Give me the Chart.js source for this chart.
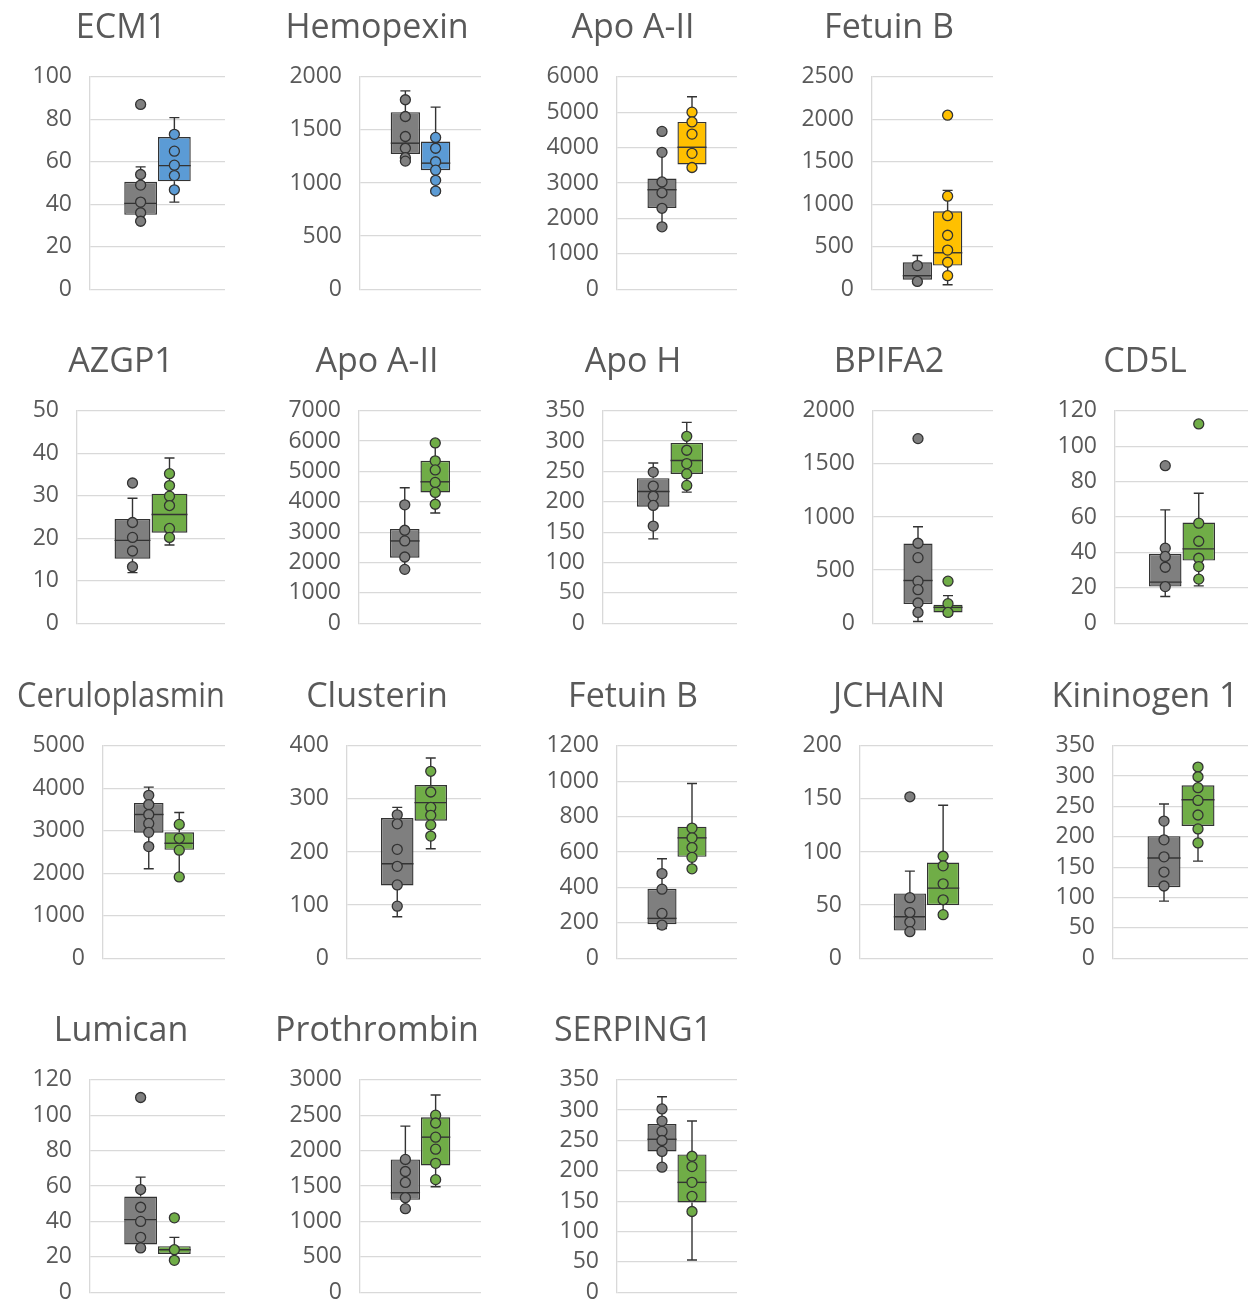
<!DOCTYPE html>
<html>
<head>
<meta charset="utf-8">
<script src="https://cdn.jsdelivr.net/npm/chart.js@4.4.1/dist/chart.umd.min.js"></script>
<style>
  body { margin: 0; background: #ffffff; width: 1248px; height: 1302px; overflow: hidden; position: relative; }
  canvas { position: absolute; }
</style>
</head>
<body>
<script>
// panel titles and y axes
const panelTitles = ["ECM1", "Hemopexin", "Apo A-II", "Fetuin B",
  "AZGP1", "Apo A-II", "Apo H", "BPIFA2", "CD5L",
  "Ceruloplasmin", "Clusterin", "Fetuin B", "JCHAIN", "Kininogen 1",
  "Lumican", "Prothrombin", "SERPING1"];
const axisMax  = [100, 2000, 6000, 2500, 50, 7000, 350, 2000, 120, 5000, 400, 1200, 200, 350, 120, 3000, 350];
const axisStep = [20, 500, 1000, 500, 10, 1000, 50, 500, 20, 1000, 100, 200, 50, 50, 20, 500, 50];

// colour of the second box in each panel
const caseColors = ["#5b9bd5", "#5b9bd5", "#ffc000", "#ffc000",
  "#70ad47", "#70ad47", "#70ad47", "#70ad47", "#70ad47",
  "#70ad47", "#70ad47", "#70ad47", "#70ad47", "#70ad47",
  "#70ad47", "#70ad47", "#70ad47"];

// box stats: [low whisker, Q1, median, Q3, high whisker]
const ctrlStats = [
  [31.5, 35, 40.4, 50.6, 57.6], [1194, 1273, 1375, 1667, 1867], [1762, 2295, 2810, 3124, 3867], [91, 111, 159, 317, 397],
  [11.9, 15.2, 19.5, 24.5, 29.4], [1774, 2160, 2711, 3108, 4463], [139, 192, 217, 239, 264], [16, 180, 402, 750, 908], [15.1, 20.7, 23.2, 39.2, 64],
  [2107, 2955, 3383, 3655, 4028], [78, 137, 178, 264, 284], [168, 192, 225, 392, 562], [24, 26, 39, 61, 82], [94, 117, 165, 201, 254],
  [24, 27, 41, 54, 65], [1165, 1305, 1405, 1875, 2345], [202, 232, 252, 277, 322]
];
const caseStats = [
  [41, 50.8, 58.2, 71.6, 80.8], [905, 1121, 1187, 1391, 1714], [3438, 3524, 4010, 4724, 5438], [52, 278, 429, 917, 1163],
  [18.4, 21.3, 25.6, 30.5, 38.9], [3630, 4310, 4660, 5350, 5940], [216, 246, 268, 297, 331], [80, 101, 149, 174, 260], [21.1, 35.4, 42, 56.9, 73.4],
  [1913, 2551, 2706, 2963, 3429], [206, 259, 293, 326, 377], [507, 573, 680, 743, 987], [39, 50, 66, 90, 144], [160, 218, 261, 285, 315],
  [19, 21.6, 24, 26, 31], [1490, 1790, 2190, 2470, 2785], [53, 148, 181, 227, 282]
];

// individual samples
const ctrlPoints = [
  [87, 54, 49, 41, 36, 32], [1784, 1626, 1438, 1327, 1238, 1206], [4457, 3867, 3029, 2724, 2286, 1762], [278, 91],
  [33, 23.7, 20.2, 17, 13.3], [3901, 3063, 2711, 2182, 1774], [249, 226, 209, 194, 160], [1738, 753, 617, 396, 316, 190, 101], [89, 42.4, 37.7, 31.6, 20.7],
  [3834, 3616, 3383, 3173, 2963, 2628], [270, 253, 205, 173, 138, 98], [478, 390, 253, 187], [152, 57, 43, 34, 25], [226, 195, 167, 142, 119],
  [110, 58, 48, 40, 31, 25], [1875, 1705, 1550, 1335, 1180], [302, 282, 265, 250, 232, 206]
];
const casePoints = [
  [72.9, 65, 58.4, 53.5, 46.8], [1429, 1327, 1200, 1121, 1025, 924], [5000, 4724, 4381, 3838, 3438], [2048, 1095, 865, 635, 460, 317, 159],
  [35.2, 32.4, 29.9, 27.7, 22.3, 20.2], [5940, 5350, 5050, 4640, 4310, 3920], [308, 285, 263, 246, 227], [396, 184, 101], [112.6, 56.5, 46.3, 36.7, 32, 24.9],
  [3149, 2823, 2543, 1913], [352, 313, 284, 269, 251, 230], [735, 680, 625, 570, 505], [96, 87, 70, 55, 41], [315, 299, 281, 260, 236, 213, 190],
  [42, 24, 18], [2500, 2390, 2190, 2020, 1820, 1590], [224, 207, 181, 158, 133]
];

// x slots: empty, control, case, empty
const slots = ["", "ctrl", "case", " "];

// page layout
const panelRow = [0, 0, 0, 0, 1, 1, 1, 1, 1, 2, 2, 2, 2, 2, 3, 3, 3];
const panelCol = [0, 1, 2, 3, 0, 1, 2, 3, 4, 0, 1, 2, 3, 4, 0, 1, 2];
const axisWidth = [90, 104, 105, 104, 77, 103, 91, 105, 91, 103, 91, 105, 92, 89, 90, 104, 105];
const rowTop = [0, 334, 669, 1003];
const colWidth = 256;
const sidePad = 17;

const fontFamily = "'Open Sans', 'Noto Sans', sans-serif";
const ctrlColor = "#7f7f7f";
const edgeColor = "#333333";

// whiskers under the boxes, medians on top of them
const boxPlugin = {
  id: "boxWhisker",
  beforeDatasetsDraw(chart, args, opts) {
    const ctx = chart.ctx;
    const xs = chart.scales.x, ys = chart.scales.y;
    ctx.save();
    ctx.strokeStyle = edgeColor;
    ctx.lineWidth = 1.4;
    opts.stats.forEach(function (s, k) {
      let cx = xs.getPixelForValue(k + 1);
      let lo = ys.getPixelForValue(s[0]), q1 = ys.getPixelForValue(s[1]);
      let q3 = ys.getPixelForValue(s[3]), hi = ys.getPixelForValue(s[4]);
      ctx.beginPath();
      ctx.moveTo(cx, lo); ctx.lineTo(cx, q1);
      ctx.moveTo(cx, q3); ctx.lineTo(cx, hi);
      ctx.moveTo(cx - 5, lo); ctx.lineTo(cx + 5, lo);
      ctx.moveTo(cx - 5, hi); ctx.lineTo(cx + 5, hi);
      ctx.stroke();
    });
    ctx.restore();
  },
  afterDatasetDraw(chart, args, opts) {
    if (args.index !== 0) return;
    const ctx = chart.ctx;
    const ys = chart.scales.y;
    const bars = chart.getDatasetMeta(0).data;
    ctx.save();
    ctx.strokeStyle = edgeColor;
    ctx.lineWidth = 1.4;
    opts.stats.forEach(function (s, k) {
      let bar = bars[k + 1];
      let my = ys.getPixelForValue(s[2]);
      ctx.beginPath();
      ctx.moveTo(bar.x - bar.width / 2, my);
      ctx.lineTo(bar.x + bar.width / 2, my);
      ctx.stroke();
    });
    ctx.restore();
  }
};

function pointSet(values, slot, color) {
  return {
    type: "scatter",
    data: values.map(function (v) { return { x: slot, y: v }; }),
    pointRadius: 5,
    pointBackgroundColor: color,
    pointBorderColor: edgeColor,
    pointBorderWidth: 1.3,
    order: 0
  };
}

for (let i = 0; i < panelTitles.length; i++) {
  let canvas = document.createElement("canvas");
  canvas.width = 242;
  canvas.height = 321;
  canvas.style.left = (panelCol[i] * colWidth) + "px";
  canvas.style.top = rowTop[panelRow[i]] + "px";
  document.body.appendChild(canvas);

  new Chart(canvas, {
    type: "bar",
    data: {
      labels: slots,
      datasets: [
        {
          data: [null, [ctrlStats[i][1], ctrlStats[i][3]], [caseStats[i][1], caseStats[i][3]], null],
          backgroundColor: ["#fff", ctrlColor, caseColors[i], "#fff"],
          borderColor: edgeColor,
          borderWidth: 1.4,
          borderSkipped: false,
          categoryPercentage: 1,
          barPercentage: 0.97,
          order: 1
        },
        pointSet(ctrlPoints[i], "ctrl", ctrlColor),
        pointSet(casePoints[i], "case", caseColors[i])
      ]
    },
    options: {
      responsive: false,
      animation: false,
      events: [],
      layout: { padding: { left: sidePad, right: sidePad, bottom: 0 } },
      plugins: {
        legend: { display: false },
        tooltip: { enabled: false },
        title: {
          display: true,
          text: panelTitles[i],
          color: "#595959",
          font: { family: fontFamily, size: 34, weight: "normal" },
          padding: { top: 8, bottom: 28 }
        },
        boxWhisker: { stats: [ctrlStats[i], caseStats[i]] }
      },
      scales: {
        x: { type: "category", display: false },
        y: {
          min: 0,
          max: axisMax[i],
          afterFit: function (scale) { scale.width = axisWidth[i] - sidePad; },
          ticks: {
            stepSize: axisStep[i],
            color: "#595959",
            padding: 18,
            font: { family: fontFamily, size: 23 },
            callback: function (v) { return String(v); }
          },
          grid: { color: "#d9d9d9", lineWidth: 1.3, drawTicks: false },
          border: { display: true, color: "#d9d9d9", width: 1.3 }
        }
      }
    },
    plugins: [boxPlugin]
  });
}
</script>
</body>
</html>
